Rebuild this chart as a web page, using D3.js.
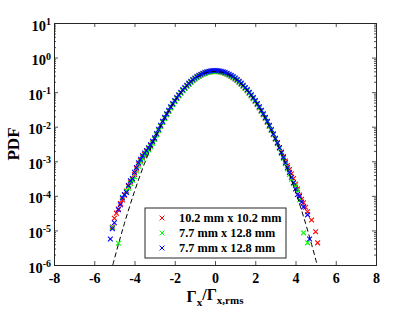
<!DOCTYPE html>
<html>
<head>
<meta charset="utf-8">
<script src="https://cdn.jsdelivr.net/npm/d3@7"></script>
<style>
  body { margin: 0; background: #fff; }
  text { font-family: "Liberation Serif", "Times New Roman", serif; font-weight: bold; fill: #000; }
</style>
</head>
<body>
<div id="chart"></div>
<script>
// Bin centres shared by the three data sets
const bins = [-5.2, -5.1, -5.0, -4.9, -4.8, -4.7, -4.6, -4.5, -4.4, -4.3, -4.2, -4.1, -4.0, -3.9, -3.8, -3.7, -3.6, -3.5, -3.4, -3.3, -3.2, -3.1,
    -3.0, -2.9, -2.8, -2.7, -2.6, -2.5, -2.4, -2.3, -2.2, -2.1, -2.0, -1.9, -1.8, -1.7, -1.6, -1.5, -1.4, -1.3, -1.2, -1.1,
    -1.0, -0.9, -0.8, -0.7, -0.6, -0.5, -0.4, -0.3, -0.2, -0.1, 0, 0.1, 0.2, 0.3, 0.4, 0.5, 0.6, 0.7, 0.8, 0.9,
    1.0, 1.1, 1.2, 1.3, 1.4, 1.5, 1.6, 1.7, 1.8, 1.9, 2.0, 2.1, 2.2, 2.3, 2.4, 2.5, 2.6, 2.7, 2.8, 2.9, 3.0,
    3.1, 3.2, 3.3, 3.4, 3.5, 3.6, 3.7, 3.8, 3.9, 4.0, 4.1, 4.2, 4.3, 4.4, 4.5, 4.6, 4.7, 4.8, 4.9, 5.0, 5.1, 5.2];

// PDF values (null = no marker in that bin)
const pdfRed = [
    null, 1.26e-5, 2.24e-5, 3.16e-5, 4.17e-5, 6.03e-5, 7.59e-5, 1.05e-4, 1.38e-4, 1.91e-4, 2.51e-4, 3.02e-4, 4.17e-4, 6.03e-4, 8.32e-4, 1.05e-3, 1.32e-3, 1.58e-3, 1.91e-3, 2.29e-3, 2.88e-3, 3.63e-3,
    4.5e-3, 6.0e-3, 7.95e-3, 1.04e-2, 1.36e-2, 1.75e-2, 2.24e-2, 2.83e-2, 3.55e-2, 4.40e-2, 5.40e-2, 6.56e-2, 7.90e-2, 9.40e-2, 0.111, 0.130, 0.150, 0.171, 0.194, 0.218,
    0.242, 0.266, 0.290, 0.312, 0.333, 0.352, 0.368, 0.381, 0.391, 0.397, 0.399, 0.397, 0.391, 0.381, 0.368, 0.352, 0.333, 0.312, 0.290, 0.266,
    0.242, 0.218, 0.194, 0.171, 0.150, 0.130, 0.111, 9.40e-2, 7.90e-2, 6.56e-2, 5.40e-2, 4.40e-2, 3.55e-2, 2.83e-2, 2.24e-2, 1.75e-2, 1.36e-2, 1.04e-2, 7.92e-3, 5.95e-3, 4.43e-3,
    3.47e-3, 2.51e-3, 1.86e-3, 1.38e-3, 1.02e-3, 7.59e-4, 5.75e-4, 4.37e-4, 3.16e-4, 2.19e-4, 1.58e-4, 1.05e-4, 7.94e-5, 6.31e-5, 4.68e-5, 3.47e-5, null, 2.0e-5, null, 9.12e-6, 4.37e-6, null];

const pdfGreen = [
    null, 1.2e-5, null, null, 4.27e-6, null, 9.12e-5, null, 1.32e-4, 1.66e-4, 2.29e-4, 2.82e-4, 3.55e-4, 5.25e-4, 7.24e-4, 9.55e-4, 1.2e-3, 1.45e-3, 1.74e-3, 2.14e-3, 2.63e-3, 3.31e-3,
    4.35e-3, 5.85e-3, 7.8e-3, 1.03e-2, 1.34e-2, 1.73e-2, 2.21e-2, 2.8e-2, 3.51e-2, 4.35e-2, 5.34e-2, 6.5e-2, 7.82e-2, 9.3e-2, 0.110, 0.128, 0.148, 0.170, 0.192, 0.216,
    0.240, 0.263, 0.287, 0.309, 0.330, 0.349, 0.365, 0.378, 0.387, 0.393, 0.395, 0.393, 0.387, 0.378, 0.365, 0.349, 0.330, 0.309, 0.287, 0.263,
    0.240, 0.216, 0.192, 0.170, 0.148, 0.128, 0.110, 9.3e-2, 7.82e-2, 6.5e-2, 5.34e-2, 4.35e-2, 3.51e-2, 2.8e-2, 2.21e-2, 1.73e-2, 1.34e-2, 1.03e-2, 7.8e-3, 5.85e-3, 4.35e-3,
    3.24e-3, 2.34e-3, 1.7e-3, 1.2e-3, 8.51e-4, 6.03e-4, 4.17e-4, 3.02e-4, 2.29e-4, 2.0e-4, 1.45e-4, 7.59e-5, null, 8.51e-6, null, 4.37e-6, null, null, null, null, null, null];

const pdfBlue = [
    5.62e-6, 1.12e-5, 1.66e-5, null, 3.98e-5, 5.5e-5, 8.71e-5, 1.1e-4, 1.26e-4, 2.0e-4, 2.75e-4, 3.16e-4, 4.79e-4, 6.61e-4, 9.12e-4, 1.15e-3, 1.45e-3, 1.74e-3, 2.04e-3, 2.45e-3, 3.02e-3, 3.8e-3,
    4.75e-3, 6.35e-3, 8.4e-3, 1.1e-2, 1.44e-2, 1.86e-2, 2.37e-2, 3.0e-2, 3.76e-2, 4.66e-2, 5.72e-2, 6.95e-2, 8.37e-2, 9.96e-2, 0.118, 0.137, 0.159, 0.182, 0.206, 0.231,
    0.257, 0.282, 0.307, 0.331, 0.353, 0.373, 0.390, 0.404, 0.414, 0.421, 0.423, 0.421, 0.414, 0.404, 0.390, 0.373, 0.353, 0.331, 0.307, 0.282,
    0.257, 0.231, 0.206, 0.182, 0.159, 0.137, 0.118, 9.96e-2, 8.37e-2, 6.95e-2, 5.72e-2, 4.66e-2, 3.76e-2, 3.0e-2, 2.37e-2, 1.86e-2, 1.44e-2, 1.1e-2, 8.3e-3, 6.2e-3, 4.6e-3,
    3.39e-3, 2.45e-3, 1.78e-3, 1.29e-3, 9.12e-4, 6.61e-4, 4.79e-4, 3.47e-4, 2.4e-4, 1.58e-4, 1.1e-4, 9.55e-5, 6.61e-5, 4.79e-5, null, 2.82e-5, 5.62e-6, null, null, null, null, null];

// Gaussian reference curve (dashed), sampled points
const gaussX = [-5.08, -4.75, -4.5, -4.25, -4.0, -3.5, -3.0, -2.5, -2.0, -1.5, -1.0, -0.5, 0,
    0.5, 1.0, 1.5, 2.0, 2.5, 3.0, 3.5, 4.0, 4.25, 4.5, 4.75, 5.08];
const gaussPdf = [1.0e-6, 5.03e-6, 1.60e-5, 4.78e-5, 1.34e-4, 8.73e-4, 4.43e-3, 1.75e-2, 5.40e-2, 0.1295, 0.2420, 0.3521, 0.3989,
    0.3521, 0.2420, 0.1295, 5.40e-2, 1.75e-2, 4.43e-3, 8.73e-4, 1.34e-4, 4.78e-5, 1.60e-5, 5.03e-6, 1.0e-6];

const seriesNames = ["10.2 mm x 10.2 mm", "7.7 mm x 12.8 mm", "7.7 mm x 12.8 mm"];
const seriesColors = ["#ff0000", "#00ff00", "#0000ff"];
const xTicks = [-8, -6, -4, -2, 0, 2, 4, 6, 8];
const yExponents = [-6, -5, -4, -3, -2, -1, 0, 1];

const width = 415, height = 312;
const margin = { left: 54, right: 39, top: 23, bottom: 47 };

const svg = d3.select("#chart").append("svg")
    .attr("width", width)
    .attr("height", height);

const x = d3.scaleLinear().domain([-8, 8]).range([margin.left, width - margin.right]);
const y = d3.scaleLog().domain([1e-6, 10]).range([height - margin.bottom, margin.top]);

// minor tick values on the log axis
const minorTicks = [];
yExponents.slice(0, -1).forEach(e => {
    for (let k = 2; k <= 9; k++) minorTicks.push(k * Math.pow(10, e));
});
const majorTicks = yExponents.map(e => Math.pow(10, e));

// Axes (ticks point inward like MATLAB)
const gx = svg.append("g")
    .attr("transform", `translate(0,${y.range()[0]})`)
    .call(d3.axisBottom(x).tickValues(xTicks).tickSize(-4).tickPadding(8).tickFormat(d => d));
gx.selectAll("text").style("font-size", "14px");

svg.append("g")
    .attr("transform", `translate(0,${y.range()[1]})`)
    .call(d3.axisTop(x).tickValues(xTicks).tickSize(-4).tickFormat(""));

const gy = svg.append("g")
    .attr("transform", `translate(${x.range()[0]},0)`)
    .call(d3.axisLeft(y).tickValues(majorTicks).tickSize(-4).tickPadding(3).tickFormat(""));

gy.selectAll(".tick text").each(function(d) {
    const t = d3.select(this).attr("dy", null).attr("y", 7).style("font-size", "14.5px");
    t.append("tspan").text("10");
    t.append("tspan").attr("dy", "-0.55em").style("font-size", "10px").text(Math.round(Math.log10(d)));
});

svg.append("g")
    .attr("transform", `translate(${x.range()[0]},0)`)
    .call(d3.axisLeft(y).tickValues(minorTicks).tickSize(-2).tickFormat(""));

svg.append("g")
    .attr("transform", `translate(${x.range()[1]},0)`)
    .call(d3.axisRight(y).tickValues(majorTicks).tickSize(-4).tickFormat(""));

svg.append("g")
    .attr("transform", `translate(${x.range()[1]},0)`)
    .call(d3.axisRight(y).tickValues(minorTicks).tickSize(-2).tickFormat(""));

svg.selectAll(".domain").attr("stroke", "#262626").attr("stroke-width", 1);
svg.selectAll(".tick line").attr("stroke", "#262626").attr("stroke-width", 0.8);

// Data markers ('x')
const half = 2.4;
const crossPath = `M${-half},${-half}L${half},${half}M${-half},${half}L${half},${-half}`;

[pdfRed, pdfGreen, pdfBlue].forEach((vals, i) => {
    const pts = bins.map((b, j) => ({ x: b, p: vals[j] })).filter(d => d.p != null);
    svg.append("g").selectAll("path")
        .data(pts)
        .enter()
        .append("path")
        .attr("d", crossPath)
        .attr("transform", d => `translate(${x(d.x)},${y(d.p)})`)
        .attr("fill", "none")
        .attr("stroke", seriesColors[i])
        .attr("stroke-width", 1.1);
});

// Gaussian dashed line
const line = d3.line()
    .x((d, i) => x(gaussX[i]))
    .y(d => y(d))
    .curve(d3.curveCatmullRom.alpha(0.5));

svg.append("path")
    .datum(gaussPdf)
    .attr("d", line)
    .attr("fill", "none")
    .attr("stroke", "#000")
    .attr("stroke-width", 1)
    .attr("stroke-dasharray", "5,3");

// Legend
const legend = svg.append("g").attr("transform", "translate(145,208)");
legend.append("rect")
    .attr("width", 141)
    .attr("height", 50)
    .attr("fill", "#fff")
    .attr("stroke", "#262626")
    .attr("stroke-width", 1);

seriesNames.forEach((name, i) => {
    legend.append("path")
        .attr("d", crossPath)
        .attr("transform", `translate(17,${10 + i * 15})`)
        .attr("fill", "none")
        .attr("stroke", seriesColors[i])
        .attr("stroke-width", 1);
    legend.append("text")
        .attr("x", 34)
        .attr("y", 10 + i * 15)
        .attr("dy", "0.35em")
        .style("font-size", "12.3px")
        .text(name);
});

// Axis labels
svg.append("text")
    .attr("transform", `translate(19,${(margin.top + height - margin.bottom) / 2}) rotate(-90)`)
    .attr("text-anchor", "middle")
    .style("font-size", "17px")
    .text("PDF");

const xl = svg.append("text")
    .attr("x", (x.range()[0] + x.range()[1]) / 2)
    .attr("y", 302)
    .attr("text-anchor", "middle")
    .style("font-size", "16px");
xl.append("tspan").text("Γ");
xl.append("tspan").attr("dy", "0.35em").style("font-size", "11px").text("x");
xl.append("tspan").attr("dy", "-0.35em").text("/Γ");
xl.append("tspan").attr("dy", "0.35em").style("font-size", "11px").text("x,rms");
</script>
</body>
</html>
